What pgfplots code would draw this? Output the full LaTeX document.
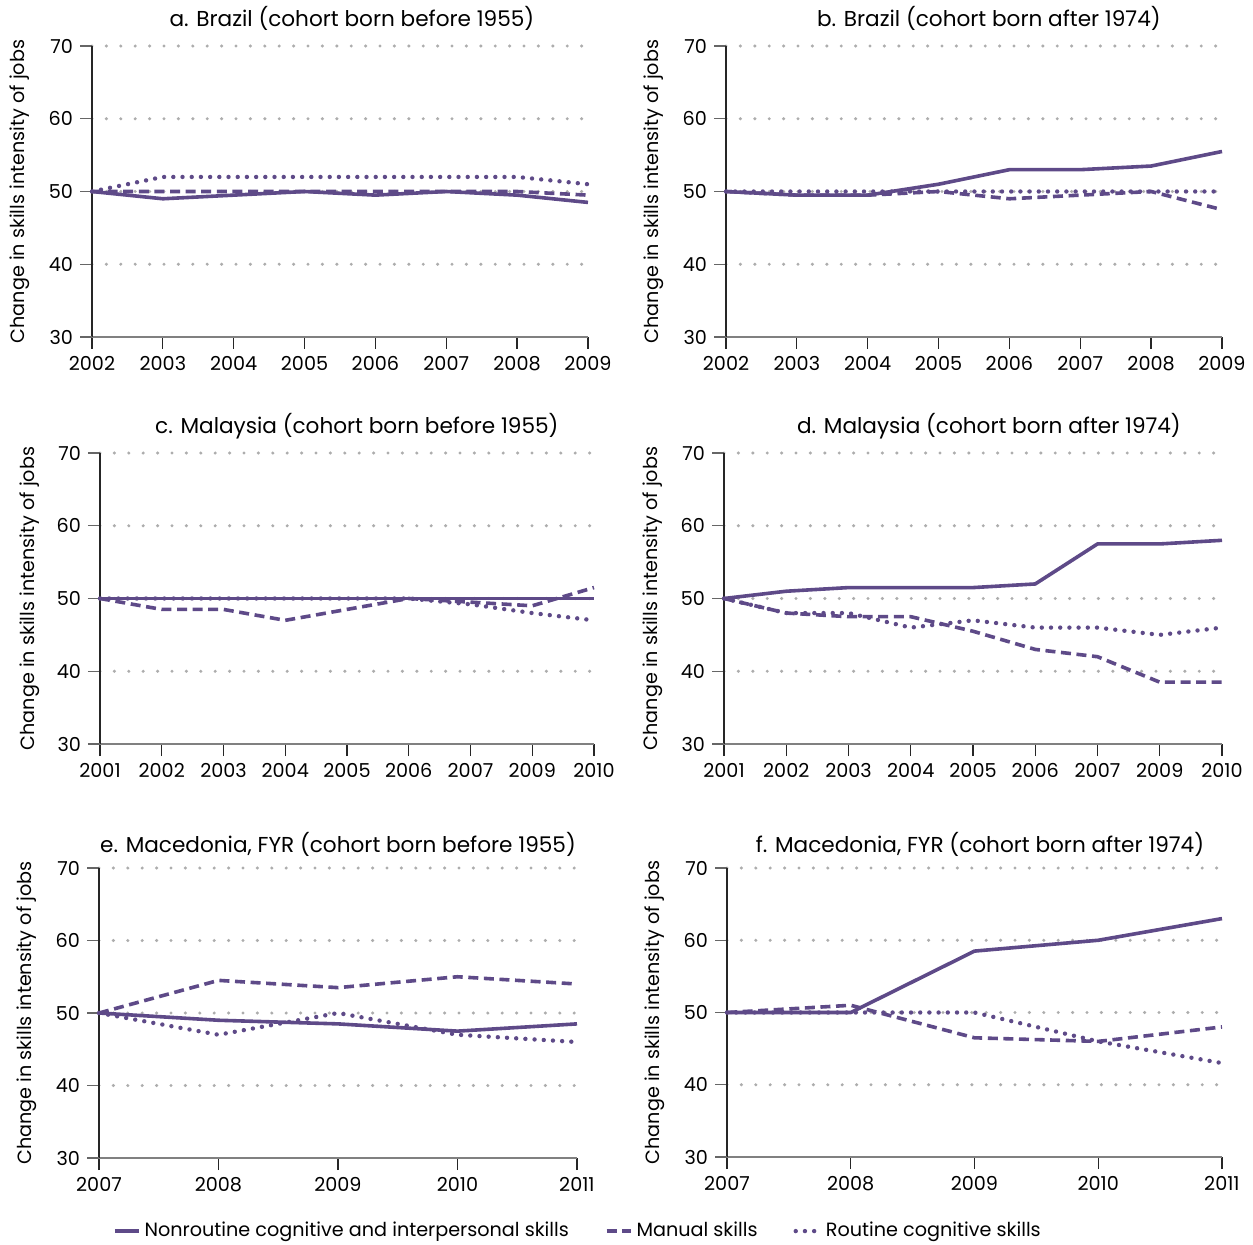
\documentclass[border=0pt]{standalone}
\usepackage{fontspec}
\setmainfont{Poppins}
\usepackage{pgfplots}
\pgfplotsset{compat=1.18}
\definecolor{pur}{HTML}{5E4A88}
\pgfplotsset{
 panel/.style={
  scale only axis,
  axis x line=bottom, axis y line=left,
  x axis line style={-, black!50, line width=0.6pt},
  y axis line style={-, black!85, line width=0.6pt},
  tick align=outside,
  major tick length=6pt,
  xtick style={black!85, line width=0.6pt},
  ytick style={black!60, line width=0.6pt},
  ymin=30, ymax=70, ytick={40,50,60,70},
  extra y ticks={30}, extra y tick style={grid=none},
  ymajorgrids,
  grid style={black!32, line width=1.7pt, line cap=round, dash pattern=on 0pt off 7.2pt},
  tick label style={font=\fontsize{9.6}{11}\selectfont},
  /pgf/number format/assume math mode=true,
  /pgf/number format/1000 sep={},
  ylabel={Change in skills intensity of jobs},
  ylabel style={anchor=center, font=\fontsize{9.6}{11}\selectfont},
  every axis title shift=0pt,
  title style={anchor=base, font=\fontsize{10.8}{12}\selectfont},
  clip=false,
  every axis plot/.append style={pur, line join=round},
 },
 sol/.style={pur, line width=1.8pt},
 dsh/.style={pur, line width=1.8pt, dash pattern=on 5pt off 2.8pt},
 dot/.style={pur, line width=2.2pt, line cap=round, dash pattern=on 0pt off 4.6pt},
}
\begin{document}
\begin{tikzpicture}
\useasboundingbox (0,0) rectangle (626.5pt,622pt);
% a
\begin{axis}[panel, at={(46pt,453.5pt)}, anchor=south west, width=248pt, height=145.5pt,
  xmin=2002, xmax=2009, xtick={2002,...,2009},
  ylabel style={at={(axis description cs:-0.1452,0.5)}},
  title={a. Brazil (cohort born before 1955)}, title style={at={(0.524,1)}, yshift=10pt}]
\addplot[sol] coordinates {(2002,50)(2003,49)(2004,49.5)(2005,50)(2006,49.5)(2007,50)(2008,49.5)(2009,48.5)};
\addplot[dsh] coordinates {(2002,50)(2003,50)(2004,50)(2005,50)(2006,50)(2007,50)(2008,50)(2009,49.5)};
\addplot[dot] coordinates {(2002,50)(2003,52)(2004,52)(2005,52)(2006,52)(2007,52)(2008,52)(2009,51)};
\end{axis}
% b
\begin{axis}[panel, at={(363pt,453.5pt)}, anchor=south west, width=248pt, height=145.5pt,
  xmin=2002, xmax=2009, xtick={2002,...,2009},
  ylabel style={at={(axis description cs:-0.1452,0.5)}},
  title={b. Brazil (cohort born after 1974)}, title style={at={(0.530,1)}, yshift=10pt}]
\addplot[sol] coordinates {(2002,50)(2003,49.5)(2004,49.5)(2005,51)(2006,53)(2007,53)(2008,53.5)(2009,55.5)};
\addplot[dsh] coordinates {(2002,50)(2003,49.5)(2004,49.5)(2005,50)(2006,49)(2007,49.5)(2008,50)(2009,47.5)};
\addplot[dot] coordinates {(2002,50)(2003,50)(2004,50)(2005,50)(2006,50)(2007,50)(2008,50)(2009,50)};
\end{axis}
% c
\begin{axis}[panel, at={(50pt,250pt)}, anchor=south west, width=247pt, height=145.5pt,
  xmin=0, xmax=8, xtick={0,...,8}, xticklabels={2001,2002,2003,2004,2005,2006,2007,2009,2010},
  ylabel style={at={(axis description cs:-0.1417,0.5)}},
  title={c. Malaysia (cohort born before 1955)}, title style={at={(0.520,1)}, yshift=10pt}]
\addplot[sol] coordinates {(0,50)(1,50)(2,50)(3,50)(4,50)(5,50)(6,50)(7,50)(8,50)};
\addplot[dsh] coordinates {(0,50)(1,48.5)(2,48.5)(3,47)(4,48.5)(5,50)(6,49.5)(7,49)(8,51.5)};
\addplot[dot] coordinates {(0,50)(1,50)(2,50)(3,50)(4,50)(5,50)(6,49.2)(7,48)(8,47)};
\end{axis}
% d
\begin{axis}[panel, at={(362pt,250pt)}, anchor=south west, width=249pt, height=145.5pt,
  xmin=0, xmax=8, xtick={0,...,8}, xticklabels={2001,2002,2003,2004,2005,2006,2007,2009,2010},
  ylabel style={at={(axis description cs:-0.1426,0.5)}},
  title={d. Malaysia (cohort born after 1974)}, title style={at={(0.532,1)}, yshift=10pt}]
\addplot[sol] coordinates {(0,50)(1,51)(2,51.5)(3,51.5)(4,51.5)(5,52)(6,57.5)(7,57.5)(8,58)};
\addplot[dsh] coordinates {(0,50)(1,48)(2,47.5)(3,47.5)(4,45.5)(5,43)(6,42)(7,38.5)(8,38.5)};
\addplot[dot] coordinates {(0,50)(1,48)(2,48)(3,46)(4,47)(5,46)(6,46)(7,45)(8,46)};
\end{axis}
% e
\begin{axis}[panel, at={(49.5pt,43pt)}, anchor=south west, width=239pt, height=145pt,
  xmin=2007, xmax=2011, xtick={2007,...,2011},
  ylabel style={at={(axis description cs:-0.1506,0.5)}},
  title={e. Macedonia, FYR (cohort born before 1955)}, title style={at={(0.5,1)}, yshift=8pt},
  legend columns=3,
  legend style={draw=none, fill=none, at={(1.004,-0.252)}, anchor=center,
    font=\fontsize{9.6}{11}\selectfont,
    /tikz/every even column/.append style={column sep=16pt}},
  legend image code/.code={\draw[#1] (0pt,0pt) -- (12pt,0pt);}]
\addplot[sol] coordinates {(2007,50)(2008,49)(2009,48.5)(2010,47.5)(2011,48.5)};
\addplot[dsh] coordinates {(2007,50)(2008,54.5)(2009,53.5)(2010,55)(2011,54)};
\addplot[dot] coordinates {(2007,50)(2008,47)(2009,50)(2010,47)(2011,46)};
\legend{Nonroutine cognitive and interpersonal skills, Manual skills, Routine cognitive skills}
\end{axis}
% f
\begin{axis}[panel, at={(363.5pt,43.5pt)}, anchor=south west, width=247.5pt, height=144.5pt,
  xmin=2007, xmax=2011, xtick={2007,...,2011},
  ylabel style={at={(axis description cs:-0.1455,0.5)}},
  title={f. Macedonia, FYR (cohort born after 1974)}, title style={at={(0.511,1)}, yshift=8pt}]
\addplot[sol] coordinates {(2007,50)(2008,50)(2009,58.5)(2010,60)(2011,63)};
\addplot[dsh] coordinates {(2007,50)(2008,51)(2009,46.5)(2010,46)(2011,48)};
\addplot[dot] coordinates {(2007,50)(2008,50)(2009,50)(2010,46)(2011,43)};
\end{axis}
\end{tikzpicture}
\end{document}
